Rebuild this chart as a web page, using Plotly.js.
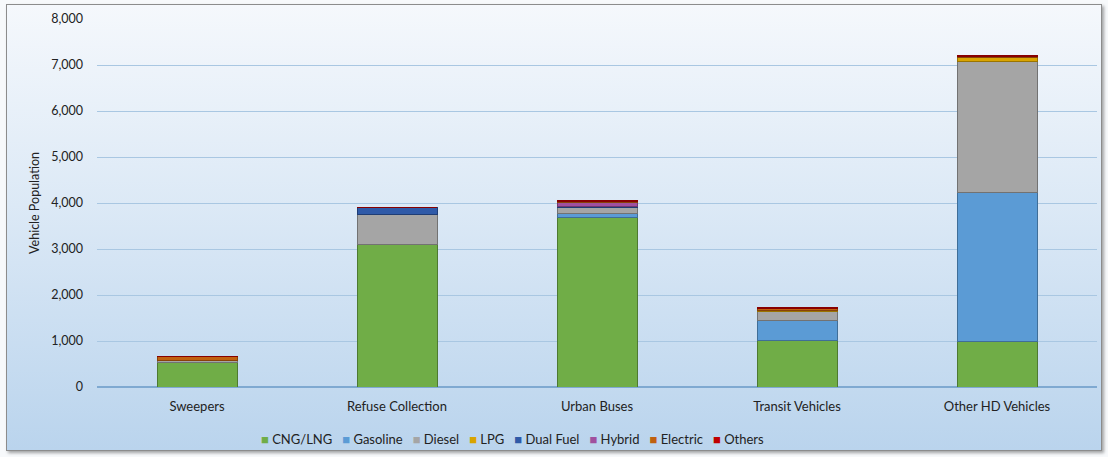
<!DOCTYPE html>
<html>
<head>
<meta charset="utf-8">
<script src="https://cdn.plot.ly/plotly-3.0.1.min.js"></script>
<style>
html,body{margin:0;padding:0;background:#f7f9fb;}
#wrap{position:absolute;left:6px;top:4px;width:1094px;height:445px;
 border:1px solid #8c8c8c;box-shadow:2px 2px 3px rgba(0,0,0,0.35);
 background:linear-gradient(to bottom,#f5f8fc 0%,#dce9f6 45%,#bad4ed 100%);}
#chart{position:absolute;left:-7px;top:-5px;width:1108px;height:457px;}
</style>
</head>
<body>
<div id="wrap"><div id="chart"></div></div>
<script>
const categories = ["Sweepers","Refuse Collection","Urban Buses","Transit Vehicles","Other HD Vehicles"];
const seriesNames = ["CNG/LNG","Gasoline","Diesel","LPG","Dual Fuel","Hybrid","Electric","Others"];
const cngLng   = [540, 3090, 3680, 1020, 980];
const gasoline = [0, 0, 95, 415, 3245];
const diesel   = [40, 665, 120, 200, 2855];
const lpg      = [0, 0, 0, 20, 90];
const dualFuel = [0, 150, 20, 10, 0];
const hybrid   = [0, 0, 100, 0, 0];
const electric = [80, 0, 25, 50, 20];
const others   = [10, 0, 25, 20, 25];
const yTicks = [0,1000,2000,3000,4000,5000,6000,7000,8000];

const values = [cngLng, gasoline, diesel, lpg, dualFuel, hybrid, electric, others];
const colors = ["#70AD47","#5B9BD5","#A5A5A5","#D9A400","#2F5AA8","#A0509E","#C0600F","#C00000"];
const lines  = ["#4E7A31","#3F6E98","#727272","#9A7400","#1F3D75","#703870","#884208","#880000"];

const traces = seriesNames.map((n,i)=>({
  type:'bar', name:n, x:categories, y:values[i],
  marker:{color:colors[i], line:{color:lines[i], width:1}},
  hoverinfo:'x+y+name'
}));

// legend drawn as a single text annotation with coloured squares
const legendText = seriesNames.map((n,i)=>
  '<span style="color:'+colors[i]+'">■</span>&nbsp;'+n).join('&nbsp;&nbsp;&nbsp;');

const layout = {
  width:1108, height:457,
  paper_bgcolor:'rgba(0,0,0,0)', plot_bgcolor:'rgba(0,0,0,0)',
  barmode:'stack', bargap:0.6,
  margin:{l:97, r:11, t:19, b:70},
  font:{family:'Lato, Carlito, "Open Sans", sans-serif', size:13, color:'#222'},
  xaxis:{type:'category', showgrid:false, showline:false, zeroline:false,
         ticks:'', ticklabelstandoff:10, tickfont:{size:13}, fixedrange:true},
  yaxis:{range:[0,8000], tickvals:yTicks, tickformat:',d', showgrid:true, gridcolor:'#a9c7e2', gridwidth:1,
         zeroline:true, zerolinecolor:'#7fa9d1', zerolinewidth:1.5, showline:false,
         ticks:'', ticklabelstandoff:13, tickfont:{size:12.5},
         title:{text:'Vehicle Population', font:{size:12.5}, standoff:8}},
  showlegend:false,
  annotations:[{xref:'paper', yref:'paper', x:0.415, y:-0.141, xanchor:'center', yanchor:'middle',
    showarrow:false, text:legendText, font:{size:13, color:'#222'}}]
};
Plotly.newPlot('chart', traces, layout, {displayModeBar:false, staticPlot:true});
</script>
</body>
</html>
